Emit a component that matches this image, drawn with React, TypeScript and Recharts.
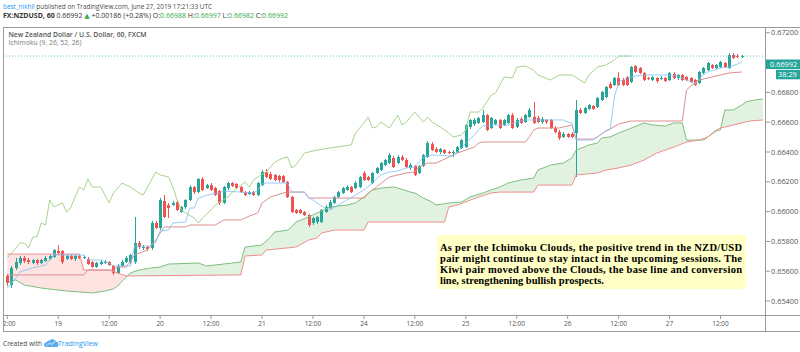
import React from 'react';
import { ComposedChart, Bar, Line, Area, XAxis, YAxis, ReferenceLine } from 'recharts';

// ---- Candles (hourly, one per slot; slot 0 = Jun 18 12:00) ----
const openPrices = [
  0.65568, 0.65507, 0.65622, 0.65655, 0.65689, 0.65675, 0.65655, 0.65675, 0.65655, 0.65668,
  0.65682, 0.65695, 0.65736, 0.65736, 0.65682, 0.65702, 0.65682, 0.65702, 0.65689, 0.65682,
  0.65662, 0.65628, 0.65648, 0.65655, 0.65662, 0.65635, 0.65588, 0.65635, 0.65662, 0.65662,
  0.65662, 0.65789, 0.65756, 0.65762, 0.65756, 0.65924, 0.65890, 0.66071, 0.66044, 0.66044,
  0.66064, 0.65997, 0.66031, 0.66078, 0.66165, 0.66131, 0.66219, 0.66158, 0.66178, 0.66158,
  0.66138, 0.66058, 0.66158, 0.66192, 0.66185, 0.66165, 0.66131, 0.66118, 0.66131, 0.66111,
  0.66178, 0.66266, 0.66252, 0.66246, 0.66239, 0.66239, 0.66199, 0.66098, 0.66011, 0.66011,
  0.65997, 0.65977, 0.65924, 0.65930, 0.65930, 0.65997, 0.66024, 0.66058, 0.66098, 0.66125,
  0.66145, 0.66165, 0.66158, 0.66165, 0.66259, 0.66232, 0.66192, 0.66259, 0.66279, 0.66313,
  0.66326, 0.66360, 0.66326, 0.66366, 0.66346, 0.66293, 0.66306, 0.66259, 0.66306, 0.66366,
  0.66453, 0.66420, 0.66400, 0.66413, 0.66400, 0.66393, 0.66400, 0.66427, 0.66433, 0.66568,
  0.66588, 0.66595, 0.66601, 0.66648, 0.66561, 0.66588, 0.66615, 0.66581, 0.66595, 0.66648,
  0.66568, 0.66621, 0.66601, 0.66635, 0.66635, 0.66628, 0.66601, 0.66615, 0.66615, 0.66561,
  0.66534, 0.66501, 0.66521, 0.66521, 0.66527, 0.66682, 0.66662, 0.66689, 0.66709, 0.66702,
  0.66749, 0.66769, 0.66856, 0.66850, 0.66897, 0.66883, 0.66903, 0.66870, 0.66977, 0.66964,
  0.66930, 0.66897, 0.66883, 0.66897, 0.66890, 0.66897, 0.66883, 0.66923, 0.66897, 0.66917,
  0.66903, 0.66897, 0.66883, 0.66863, 0.66930, 0.66950, 0.66984, 0.66964, 0.66970, 0.66997,
  0.66964, 0.67051, 0.67044, 0.67038,
];
const highPrices = [
  0.65581, 0.65635, 0.65689, 0.65702, 0.65702, 0.65689, 0.65682, 0.65682, 0.65682, 0.65702,
  0.65709, 0.65749, 0.65776, 0.65742, 0.65715, 0.65709, 0.65709, 0.65709, 0.65709, 0.65695,
  0.65668, 0.65662, 0.65675, 0.65675, 0.65668, 0.65642, 0.65648, 0.65675, 0.65702, 0.65715,
  0.65964, 0.65803, 0.65776, 0.65769, 0.65937, 0.65937, 0.66091, 0.66111, 0.66058, 0.66071,
  0.66078, 0.66038, 0.66084, 0.66178, 0.66172, 0.66225, 0.66232, 0.66185, 0.66192, 0.66165,
  0.66145, 0.66172, 0.66199, 0.66199, 0.66192, 0.66172, 0.66138, 0.66138, 0.66138, 0.66199,
  0.66279, 0.66286, 0.66266, 0.66252, 0.66246, 0.66246, 0.66205, 0.66105, 0.66017, 0.66017,
  0.66004, 0.65984, 0.65964, 0.65970, 0.66017, 0.66044, 0.66078, 0.66105, 0.66138, 0.66165,
  0.66178, 0.66172, 0.66205, 0.66239, 0.66272, 0.66239, 0.66266, 0.66299, 0.66333, 0.66353,
  0.66393, 0.66373, 0.66380, 0.66380, 0.66360, 0.66326, 0.66313, 0.66313, 0.66387, 0.66474,
  0.66467, 0.66433, 0.66427, 0.66420, 0.66407, 0.66413, 0.66440, 0.66487, 0.66588, 0.66621,
  0.66628, 0.66635, 0.66682, 0.66655, 0.66635, 0.66621, 0.66621, 0.66621, 0.66655, 0.66662,
  0.66628, 0.66635, 0.66655, 0.66695, 0.66736, 0.66642, 0.66635, 0.66621, 0.66621, 0.66574,
  0.66548, 0.66534, 0.66527, 0.66534, 0.66749, 0.66695, 0.66702, 0.66722, 0.66715, 0.66769,
  0.66809, 0.66843, 0.66870, 0.66903, 0.66937, 0.66897, 0.66910, 0.66977, 0.66984, 0.66970,
  0.66937, 0.66903, 0.66910, 0.66903, 0.66910, 0.66903, 0.66937, 0.66937, 0.66923, 0.66923,
  0.66910, 0.66903, 0.66890, 0.66944, 0.66970, 0.67004, 0.66990, 0.66990, 0.67011, 0.67004,
  0.67064, 0.67064, 0.67058, 0.67051,
];
const lowPrices = [
  0.65501, 0.65487, 0.65608, 0.65642, 0.65655, 0.65648, 0.65648, 0.65642, 0.65648, 0.65662,
  0.65675, 0.65689, 0.65709, 0.65648, 0.65675, 0.65675, 0.65668, 0.65682, 0.65682, 0.65642,
  0.65622, 0.65622, 0.65642, 0.65648, 0.65635, 0.65575, 0.65581, 0.65628, 0.65655, 0.65648,
  0.65648, 0.65749, 0.65742, 0.65736, 0.65742, 0.65883, 0.65877, 0.65957, 0.65957, 0.66038,
  0.66004, 0.65991, 0.66017, 0.66071, 0.66118, 0.66125, 0.66138, 0.66152, 0.66138, 0.66105,
  0.66044, 0.66051, 0.66145, 0.66165, 0.66152, 0.66125, 0.66105, 0.66111, 0.66105, 0.66105,
  0.66172, 0.66225, 0.66212, 0.66205, 0.66199, 0.66192, 0.66091, 0.65991, 0.65984, 0.65984,
  0.65970, 0.65897, 0.65910, 0.65917, 0.65924, 0.65991, 0.66017, 0.66051, 0.66091, 0.66118,
  0.66138, 0.66125, 0.66152, 0.66158, 0.66205, 0.66205, 0.66185, 0.66252, 0.66272, 0.66306,
  0.66319, 0.66293, 0.66319, 0.66340, 0.66293, 0.66279, 0.66239, 0.66252, 0.66299, 0.66360,
  0.66407, 0.66393, 0.66386, 0.66386, 0.66386, 0.66366, 0.66393, 0.66420, 0.66427, 0.66554,
  0.66574, 0.66588, 0.66595, 0.66541, 0.66554, 0.66581, 0.66554, 0.66574, 0.66588, 0.66554,
  0.66561, 0.66588, 0.66595, 0.66628, 0.66588, 0.66595, 0.66588, 0.66588, 0.66554, 0.66527,
  0.66480, 0.66494, 0.66494, 0.66494, 0.66232, 0.66655, 0.66655, 0.66682, 0.66682, 0.66695,
  0.66742, 0.66762, 0.66823, 0.66843, 0.66843, 0.66843, 0.66843, 0.66863, 0.66930, 0.66923,
  0.66876, 0.66883, 0.66876, 0.66863, 0.66883, 0.66870, 0.66876, 0.66890, 0.66883, 0.66876,
  0.66876, 0.66863, 0.66843, 0.66856, 0.66923, 0.66944, 0.66957, 0.66957, 0.66964, 0.66964,
  0.66957, 0.67024, 0.67031, 0.67031,
];
const closePrices = [
  0.65521, 0.65622, 0.65662, 0.65689, 0.65668, 0.65662, 0.65675, 0.65655, 0.65675, 0.65689,
  0.65702, 0.65742, 0.65722, 0.65662, 0.65702, 0.65682, 0.65702, 0.65689, 0.65695, 0.65648,
  0.65628, 0.65655, 0.65662, 0.65662, 0.65642, 0.65588, 0.65635, 0.65662, 0.65689, 0.65709,
  0.65789, 0.65762, 0.65762, 0.65749, 0.65924, 0.65890, 0.66078, 0.65964, 0.66024, 0.66058,
  0.66011, 0.66031, 0.66078, 0.66165, 0.66131, 0.66219, 0.66145, 0.66178, 0.66145, 0.66111,
  0.66058, 0.66165, 0.66192, 0.66172, 0.66158, 0.66131, 0.66111, 0.66131, 0.66111, 0.66192,
  0.66266, 0.66232, 0.66219, 0.66212, 0.66212, 0.66199, 0.66098, 0.65997, 0.65991, 0.65991,
  0.65977, 0.65910, 0.65957, 0.65964, 0.66011, 0.66031, 0.66064, 0.66098, 0.66131, 0.66158,
  0.66165, 0.66131, 0.66192, 0.66232, 0.66212, 0.66212, 0.66259, 0.66293, 0.66326, 0.66346,
  0.66380, 0.66299, 0.66366, 0.66346, 0.66299, 0.66313, 0.66246, 0.66306, 0.66380, 0.66460,
  0.66413, 0.66400, 0.66420, 0.66393, 0.66393, 0.66400, 0.66433, 0.66480, 0.66581, 0.66615,
  0.66615, 0.66628, 0.66648, 0.66548, 0.66628, 0.66615, 0.66561, 0.66615, 0.66648, 0.66561,
  0.66615, 0.66595, 0.66648, 0.66682, 0.66595, 0.66601, 0.66621, 0.66601, 0.66561, 0.66534,
  0.66494, 0.66521, 0.66501, 0.66501, 0.66682, 0.66662, 0.66695, 0.66715, 0.66689, 0.66762,
  0.66803, 0.66836, 0.66829, 0.66897, 0.66850, 0.66850, 0.66850, 0.66970, 0.66937, 0.66930,
  0.66883, 0.66890, 0.66903, 0.66876, 0.66897, 0.66876, 0.66930, 0.66897, 0.66917, 0.66883,
  0.66883, 0.66870, 0.66850, 0.66937, 0.66964, 0.66997, 0.66964, 0.66984, 0.67004, 0.66970,
  0.67051, 0.67031, 0.67038, 0.67044,
];

// ---- Ichimoku lines: vertices (slot, price) ----
const tenkanSlots = [0, 2, 3, 6, 9, 11, 18, 19, 22, 24, 25, 29, 30, 33, 34, 35, 36, 38, 39, 42, 43, 44, 45, 46, 47, 50, 51, 55, 58, 59, 60, 61, 66, 67, 70, 71, 72, 74, 76, 78, 80, 82, 84, 86, 88, 90, 92, 94, 96, 98, 100, 105, 106, 108, 110, 111, 112, 114, 118, 120, 122, 131, 132, 133, 134, 138, 139, 140, 141, 142, 143, 144, 146, 148, 150, 156, 158, 160, 162, 163, 165, 168, 170, 172, 173];
const tenkanValues = [0.65487, 0.65554, 0.65595, 0.65622, 0.65642, 0.65709, 0.65709, 0.65675, 0.65675, 0.65655, 0.65635, 0.65635, 0.65769, 0.65769, 0.65776, 0.65796, 0.65870, 0.65876, 0.65924, 0.65930, 0.66024, 0.66024, 0.66091, 0.66098, 0.66111, 0.66125, 0.66138, 0.66131, 0.66125, 0.66145, 0.66185, 0.66192, 0.66192, 0.66131, 0.66131, 0.66091, 0.66078, 0.66038, 0.66011, 0.66044, 0.66078, 0.66111, 0.66145, 0.66192, 0.66246, 0.66266, 0.66272, 0.66293, 0.66299, 0.66366, 0.66380, 0.66373, 0.66400, 0.66460, 0.66514, 0.66548, 0.66574, 0.66581, 0.66581, 0.66601, 0.66615, 0.66615, 0.66601, 0.66595, 0.66480, 0.66480, 0.66501, 0.66521, 0.66541, 0.66554, 0.66769, 0.66870, 0.66897, 0.66910, 0.66917, 0.66917, 0.66910, 0.66883, 0.66856, 0.66897, 0.66937, 0.66964, 0.66970, 0.66990, 0.67004];

const kijunSlots = [0, 18, 19, 25, 26, 28, 30, 33, 35, 36, 37, 42, 43, 49, 51, 55, 57, 59, 60, 62, 65, 66, 70, 71, 84, 85, 87, 89, 90, 92, 94, 96, 97, 99, 101, 104, 106, 108, 110, 111, 112, 122, 123, 124, 125, 130, 131, 133, 134, 138, 139, 140, 141, 142, 144, 147, 159, 160, 161, 163, 165, 168, 170, 173];
const kijunValues = [0.65575, 0.65575, 0.65608, 0.65608, 0.65628, 0.65628, 0.65709, 0.65742, 0.65809, 0.65856, 0.65897, 0.65897, 0.65910, 0.65910, 0.65944, 0.65944, 0.65970, 0.65991, 0.66058, 0.66098, 0.66125, 0.66131, 0.66131, 0.66091, 0.66091, 0.66125, 0.66165, 0.66212, 0.66232, 0.66246, 0.66259, 0.66266, 0.66299, 0.66326, 0.66326, 0.66366, 0.66393, 0.66413, 0.66433, 0.66460, 0.66467, 0.66467, 0.66501, 0.66548, 0.66561, 0.66561, 0.66568, 0.66581, 0.66487, 0.66487, 0.66501, 0.66521, 0.66541, 0.66554, 0.66588, 0.66608, 0.66608, 0.66816, 0.66843, 0.66883, 0.66897, 0.66917, 0.66930, 0.66937];

const laggingSlots = [0, 1, 3, 4, 5, 6, 7, 8, 9, 10, 11, 13, 14, 15, 17, 18, 19, 20, 22, 24, 25, 27, 29, 31, 32, 35, 36, 38, 39, 40, 41, 42, 44, 45, 46, 48, 49, 52, 53, 56, 57, 58, 59, 61, 62, 63, 65, 66, 67, 68, 70, 73, 76, 81, 82, 84, 85, 86, 87, 88, 90, 92, 93, 94, 96, 98, 99, 100, 102, 104, 105, 107, 108, 109, 111, 112, 114, 115, 117, 119, 120, 122, 124, 125, 128, 130, 133, 136, 137, 139, 141, 143, 144, 147];
const laggingValues = [0.65689, 0.65722, 0.65789, 0.65789, 0.65756, 0.65830, 0.65830, 0.65924, 0.65910, 0.66078, 0.66031, 0.66058, 0.65997, 0.66031, 0.66165, 0.66145, 0.66219, 0.66165, 0.66165, 0.66058, 0.66125, 0.66192, 0.66165, 0.66125, 0.66111, 0.66266, 0.66246, 0.66232, 0.66165, 0.66078, 0.66011, 0.65991, 0.65957, 0.65924, 0.65957, 0.66011, 0.66044, 0.66098, 0.66131, 0.66199, 0.66165, 0.66212, 0.66232, 0.66266, 0.66299, 0.66333, 0.66360, 0.66366, 0.66293, 0.66313, 0.66393, 0.66413, 0.66427, 0.66447, 0.66527, 0.66595, 0.66635, 0.66561, 0.66568, 0.66601, 0.66561, 0.66648, 0.66581, 0.66601, 0.66668, 0.66601, 0.66635, 0.66601, 0.66568, 0.66527, 0.66501, 0.66514, 0.66548, 0.66668, 0.66668, 0.66695, 0.66782, 0.66796, 0.66903, 0.66897, 0.66970, 0.66977, 0.66950, 0.66917, 0.66883, 0.66917, 0.66917, 0.66863, 0.66917, 0.66970, 0.66984, 0.67017, 0.67044, 0.67044];

const leadASlots = [0, 2, 4, 8, 14, 20, 23, 25, 26, 28, 29, 31, 34, 36, 38, 45, 47, 53, 55, 56, 60, 62, 63, 66, 67, 68, 71, 73, 76, 80, 82, 84, 86, 88, 91, 92, 95, 96, 98, 100, 101, 104, 107, 109, 112, 116, 118, 121, 124, 125, 128, 131, 133, 134, 137, 139, 140, 142, 144, 147, 150, 152, 155, 157, 159, 160, 164, 165, 166, 167, 168, 169, 171, 173, 174, 176, 178];
const leadAValues = [0.65521, 0.65541, 0.65507, 0.65487, 0.65467, 0.65454, 0.65467, 0.65481, 0.65501, 0.65561, 0.65588, 0.65608, 0.65622, 0.65628, 0.65648, 0.65655, 0.65635, 0.65655, 0.65662, 0.65762, 0.65776, 0.65830, 0.65863, 0.65876, 0.65897, 0.65930, 0.65964, 0.65991, 0.66031, 0.66044, 0.66058, 0.66098, 0.66145, 0.66158, 0.66165, 0.66158, 0.66131, 0.66125, 0.66091, 0.66064, 0.66044, 0.66058, 0.66064, 0.66098, 0.66125, 0.66165, 0.66192, 0.66212, 0.66225, 0.66279, 0.66313, 0.66326, 0.66360, 0.66413, 0.66447, 0.66460, 0.66494, 0.66501, 0.66527, 0.66561, 0.66595, 0.66581, 0.66574, 0.66595, 0.66595, 0.66480, 0.66480, 0.66501, 0.66521, 0.66541, 0.66548, 0.66682, 0.66682, 0.66715, 0.66736, 0.66749, 0.66756];

const leadBSlots = [0, 17, 18, 24, 28, 55, 56, 60, 61, 68, 71, 73, 74, 77, 84, 85, 103, 104, 106, 111, 114, 116, 124, 125, 133, 134, 139, 141, 144, 147, 150, 153, 155, 157, 160, 163, 165, 167, 168, 171, 173, 175, 178];
const leadBValues = [0.65715, 0.65715, 0.65608, 0.65608, 0.65568, 0.65575, 0.65702, 0.65709, 0.65742, 0.65762, 0.65809, 0.65823, 0.65856, 0.65876, 0.65876, 0.65930, 0.65930, 0.66031, 0.66044, 0.66098, 0.66125, 0.66131, 0.66131, 0.66178, 0.66178, 0.66246, 0.66259, 0.66279, 0.66293, 0.66313, 0.66346, 0.66393, 0.66413, 0.66433, 0.66467, 0.66480, 0.66501, 0.66548, 0.66561, 0.66581, 0.66595, 0.66608, 0.66615];

// ---- Axes ----
const timeTickSlots = [0, 12, 24, 36, 48, 60, 72, 84, 96, 108, 120, 132, 144, 156, 168];
const timeTickLabels = ['12:00', '19', '12:00', '20', '12:00', '21', '12:00', '24', '12:00', '25', '12:00', '26', '12:00', '27', '12:00'];
const priceTicks = [0.654, 0.656, 0.658, 0.66, 0.662, 0.664, 0.666, 0.668, 0.672];

// ---- Texts ----
const authorName = 'best_nikhil';
const publishedText = ' published on TradingView.com, June 27, 2019 17:21:33 UTC';
const symbolText = 'FX:NZDUSD, 60';
const lastPriceText = '0.66992';
const changeText = '+0.00186 (+0.28%)';
const ohlcLabels = ['O:', 'H:', 'L:', 'C:'];
const ohlcValues = ['0.66988', '0.66997', '0.66982', '0.66992'];
const paneTitle = 'New Zealand Dollar / U.S. Dollar, 60, FXCM';
const indicatorTitle = 'Ichimoku (9, 26, 52, 26)';
const countdownText = '38:29';
const noteLines = [
  'As per the Ichimoku Clouds, the positive trend in the NZD/USD',
  'pair might continue to stay intact in the upcoming sessions. The',
  'Kiwi pair moved above the Clouds, the base line and conversion',
  'line, strengthening bullish prospects.',
];

const SLOT_COUNT = 179;
const CLOUD_SWITCH_SLOT = 28;

const toMap = (slots: number[], values: number[]) => {
  const m: Record<number, number> = {};
  slots.forEach((s, i) => {
    m[s] = values[i];
  });
  return m;
};
const tenkanMap = toMap(tenkanSlots, tenkanValues);
const kijunMap = toMap(kijunSlots, kijunValues);
const laggingMap = toMap(laggingSlots, laggingValues);
const leadAMap = toMap(leadASlots, leadAValues);
const leadBMap = toMap(leadBSlots, leadBValues);

const rows = Array.from({ length: SLOT_COUNT }, (_, i) => {
  const a = leadAMap[i];
  const b = leadBMap[i];
  return {
    idx: i,
    open: openPrices[i] ?? null,
    high: highPrices[i] ?? null,
    low: lowPrices[i] ?? null,
    close: closePrices[i] ?? null,
    tenkan: tenkanMap[i] ?? null,
    kijun: kijunMap[i] ?? null,
    lagging: laggingMap[i] ?? null,
    leadA: a ?? null,
    leadB: b ?? null,
    redTop: i <= CLOUD_SWITCH_SLOT && b != null ? b : null,
    redBottom: i <= CLOUD_SWITCH_SLOT && a != null ? a : null,
    greenTop: i >= CLOUD_SWITCH_SLOT && a != null ? a : null,
    greenBottom: i >= CLOUD_SWITCH_SLOT && b != null ? b : null,
  };
});

const lastClose = closePrices[closePrices.length - 1];

const candleRange = (r: any) => (r.open == null ? null : [r.low, r.high]);

const Candle = (props: any) => {
  const { x, y, width, height, payload } = props;
  if (!payload || payload.open == null) return null;
  const { open, close, high, low } = payload;
  const top = Math.min(y, y + height);
  const h = Math.abs(height);
  const span = high - low;
  const toY = (p: number) => (span > 0 ? top + ((high - p) / span) * h : top);
  const up = close >= open;
  const color = up ? '#26a69a' : '#ef5350';
  const cx = x + width / 2;
  const left = Math.round(cx - 1.5);
  const bodyTop = toY(Math.max(open, close));
  const bodyBottom = toY(Math.min(open, close));
  return (
    <g>
      <line x1={left + 1.5} x2={left + 1.5} y1={top} y2={top + h} stroke={color} strokeWidth={1} />
      <rect x={left} y={bodyTop} width={3} height={Math.max(1, bodyBottom - bodyTop)} fill={color} />
    </g>
  );
};

const font = 'Open Sans, DejaVu Sans, sans-serif';

export default function App() {
  return (
    <div style={{ position: 'absolute', left: 0, top: 0, width: 800, height: 352, background: '#fff' }}>
      <ComposedChart
        width={800}
        height={352}
        data={rows}
        margin={{ top: 28, right: 0, bottom: 16, left: 3 }}
      >
        <XAxis
          dataKey="idx"
          type="category"
          ticks={timeTickSlots}
          interval={0}
          tickFormatter={(v: any) => timeTickLabels[timeTickSlots.indexOf(Number(v))] ?? ''}
          padding={{ left: 2.18, right: 0.92 }}
          height={20}
          tickSize={3}
          axisLine={false}
          tickLine={{ stroke: '#9a9a9a' }}
          tick={{ fontSize: 6.5, fill: '#555', fontFamily: font }}
        />
        <YAxis
          orientation="right"
          type="number"
          domain={[0.652993, 0.672322]}
          allowDataOverflow
          ticks={priceTicks}
          interval={0}
          tickFormatter={(v: number) => v.toFixed(5)}
          width={34}
          tickSize={4}
          tickMargin={1}
          axisLine={false}
          tickLine={{ stroke: '#9a9a9a' }}
          tick={{ fontSize: 7.4, fill: '#555', fontFamily: font }}
        />
        <Area dataKey="redTop" connectNulls stroke="none" fill="#f44336" fillOpacity={0.15} isAnimationActive={false} dot={false} activeDot={false} />
        <Area dataKey="redBottom" connectNulls stroke="none" fill="#ffffff" fillOpacity={1} isAnimationActive={false} dot={false} activeDot={false} />
        <Area dataKey="greenTop" connectNulls stroke="none" fill="#4caf50" fillOpacity={0.17} isAnimationActive={false} dot={false} activeDot={false} />
        <Area dataKey="greenBottom" connectNulls stroke="none" fill="#ffffff" fillOpacity={1} isAnimationActive={false} dot={false} activeDot={false} />
        <Line dataKey="leadA" connectNulls stroke="#7dbf7f" strokeWidth={1} dot={false} activeDot={false} isAnimationActive={false} />
        <Line dataKey="leadB" connectNulls stroke="#ef8f8f" strokeWidth={1} dot={false} activeDot={false} isAnimationActive={false} />
        <Line dataKey="lagging" connectNulls stroke="#a8d390" strokeWidth={1} dot={false} activeDot={false} isAnimationActive={false} />
        <ReferenceLine y={lastClose} stroke="#5cc4b9" strokeDasharray="1 2" strokeWidth={1} />
        <Bar dataKey={candleRange} barSize={3} shape={<Candle />} isAnimationActive={false} />
        <Line dataKey="kijun" connectNulls stroke="#dc8e8e" strokeWidth={1} dot={false} activeDot={false} isAnimationActive={false} />
        <Line dataKey="tenkan" connectNulls stroke="#7fbff3" strokeOpacity={0.8} strokeWidth={1} dot={false} activeDot={false} isAnimationActive={false} />
      </ComposedChart>

      <svg width={800} height={352} style={{ position: 'absolute', left: 0, top: 0, pointerEvents: 'none' }}>
        <rect x={0} y={316} width={3} height={16} fill="#fff" />
        <g stroke="#9a9a9a" strokeWidth={1}>
          <line x1={3} y1={27.5} x2={800} y2={27.5} />
          <line x1={3.5} y1={27.5} x2={3.5} y2={331.5} />
          <line x1={765.5} y1={27.5} x2={765.5} y2={331.5} />
          <line x1={3} y1={315.5} x2={800} y2={315.5} />
          <line x1={3} y1={331.5} x2={800} y2={331.5} />
        </g>

        <text x={3} y={8.5} fontSize={6.5} fontFamily={font} textLength={209} lengthAdjust="spacingAndGlyphs">
          <tspan fill="#2196f3">{authorName}</tspan>
          <tspan fill="#4a4a4a">{publishedText}</tspan>
        </text>
        <text x={3} y={18} fontSize={6.5} fontFamily={font} fill="#333" textLength={285} lengthAdjust="spacingAndGlyphs">
          <tspan fontWeight={700}>{symbolText}</tspan>
          <tspan>{' ' + lastPriceText + ' '}</tspan>
          <tspan fill="#37a84a">▲</tspan>
          <tspan>{' ' + changeText + ' ' + ohlcLabels[0]}</tspan>
          <tspan fill="#37a84a">{ohlcValues[0]}</tspan>
          <tspan>{' ' + ohlcLabels[1]}</tspan>
          <tspan fill="#37a84a">{ohlcValues[1]}</tspan>
          <tspan>{' ' + ohlcLabels[2]}</tspan>
          <tspan fill="#37a84a">{ohlcValues[2]}</tspan>
          <tspan>{' ' + ohlcLabels[3]}</tspan>
          <tspan fill="#37a84a">{ohlcValues[3]}</tspan>
        </text>

        <text x={8.5} y={36.5} fontSize={6.5} fontFamily={font} fill="#555" fontWeight={600} textLength={138} lengthAdjust="spacingAndGlyphs">
          {paneTitle}
        </text>
        <text x={8.5} y={45} fontSize={6.5} fontFamily={font} fill="#777" textLength={73} lengthAdjust="spacingAndGlyphs">
          {indicatorTitle}
        </text>

        <rect x={766} y={59.5} width={34} height={9.5} fill="#26a69a" />
        <text x={770} y={67} fontSize={7.4} fontFamily={font} fill="#fff">{lastPriceText}</text>
        <rect x={776} y={69.8} width={24} height={9.5} fill="#26a69a" />
        <text x={778} y={77.3} fontSize={7.4} fontFamily={font} fill="#fff">{countdownText}</text>

        <rect x={437} y={235} width={309} height={54} fill="#ffffc6" />
        {noteLines.map((line, i) => (
          <text
            key={i}
            x={440}
            y={250.5 + i * 11}
            fontSize={10.5}
            fontFamily="Liberation Serif, Times New Roman, serif"
            fontWeight={700}
            fill="#000"
            {...(i < 3 ? { textLength: 302, lengthAdjust: 'spacing' } : {})}
          >
            {line}
          </text>
        ))}

        <text x={3} y={345.5} fontSize={7} fontFamily={font} fill="#444" textLength={39} lengthAdjust="spacingAndGlyphs">
          Created with
        </text>
        <path
          d="M46,347 L56,347 A2.6,2.6 0 0 0 56,341.8 A3.6,3.6 0 0 0 49.6,340.6 A2.6,2.6 0 0 0 46.6,342.4 A2.3,2.3 0 0 0 46,347 Z"
          fill="#5aaef0"
        />
        <path d="M47,345.5 L49.5,343 L51.5,344.5 L55,341.5" stroke="#fff" strokeWidth={0.8} fill="none" />
        <text x={58} y={345.5} fontSize={7} fontFamily={font} fill="#2196f3" textLength={40} lengthAdjust="spacingAndGlyphs">
          TradingView
        </text>
      </svg>
    </div>
  );
}
